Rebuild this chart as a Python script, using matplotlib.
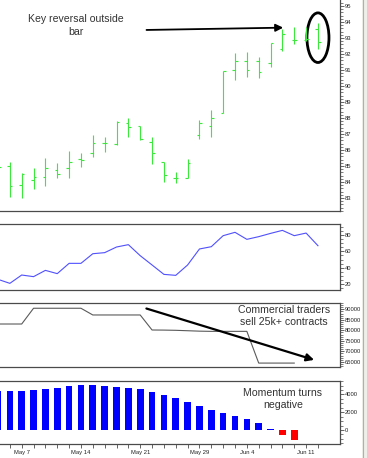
import matplotlib
matplotlib.use("Agg")
import matplotlib.pyplot as plt
from matplotlib.patches import Ellipse, Rectangle
from matplotlib.ticker import MultipleLocator, FixedLocator
import numpy as np

plt.rcParams['font.family'] = ['Liberation Sans', 'DejaVu Sans']

# trading days, May 3 .. Jun 12
dates = ["May 3", "May 4", "May 7", "May 8", "May 9", "May 10", "May 11",
         "May 14", "May 15", "May 16", "May 17", "May 18", "May 21", "May 22",
         "May 23", "May 24", "May 25", "May 29", "May 30", "May 31", "Jun 1",
         "Jun 4", "Jun 5", "Jun 6", "Jun 7", "Jun 8", "Jun 11", "Jun 12"]
date_labels = ["May 7", "May 14", "May 21", "May 29", "Jun 4", "Jun 11"]

# price bars
opens = [85.1, 85.0, 83.81, 84.12, 84.33, 84.75, 84.85, 85.42, 85.83, 86.46,
         86.35, 87.67, 87.5, 86.52, 85.23, 84.23, 84.27, 86.94, 87.52, 88.33,
         91.0, 91.56, 91.56, 91.46, 92.31, 92.9, 92.9, 93.54]
highs = [85.3, 85.27, 84.58, 84.85, 85.48, 85.17, 85.94, 85.83, 86.94, 86.79,
         87.83, 87.98, 87.5, 86.83, 85.27, 84.65, 85.44, 87.88, 88.5, 90.96,
         92.04, 92.1, 91.83, 92.67, 93.54, 93.67, 93.67, 93.96]
lows = [84.6, 83.08, 82.98, 83.54, 83.75, 84.23, 84.23, 84.96, 85.58, 85.85,
        86.31, 86.79, 86.63, 85.1, 84.02, 83.96, 84.23, 86.67, 86.83, 88.29,
        90.38, 90.54, 90.48, 91.21, 92.21, 92.63, 92.83, 92.29]
closes = [84.96, 83.75, 84.5, 84.29, 84.85, 84.5, 85.27, 85.4, 86.42, 86.46,
          87.77, 87.42, 86.67, 85.83, 84.44, 84.23, 85.17, 87.67, 87.98, 90.96,
          91.56, 91.0, 90.85, 92.67, 93.23, 92.88, 92.92, 92.73]

# oscillator (blue line)
osc = [25.7, 20.8, 31, 29, 36.7, 32.7, 45.3, 45.3, 57.1, 58.4, 65.3, 68.2,
       54.7, 43.3, 31.8, 30.6, 43.3, 62.9, 65.7, 79.2, 83.3, 74.7, 78, 82,
       85.7, 79.2, 82.4, 66.9]

# commercial traders net position (ends Jun 8)
commercials = [83000, 83000, 83000, 90500, 90500, 90500, 90500, 90500, 87300,
               87300, 87300, 87300, 87300, 80150, 80100, 80000, 79800, 79600,
               79500, 79500, 79500, 79500, 64400, 64400, 64400, 64400]

# momentum histogram (ends Jun 8)
momentum = [4421, 4421, 4421, 4496, 4646, 4758, 4908, 5058, 5058, 4983, 4870,
            4758, 4608, 4309, 3934, 3559, 3110, 2698, 2248, 1948, 1574, 1236,
            787, 150, -562, -1150]

W, H = 367, 458
fig = plt.figure(figsize=(W / 100, H / 100), dpi=100)
fig.patch.set_facecolor("white")


def add_panel(top, bottom, left=0, right=340):
    return fig.add_axes([left / W, 1 - bottom / H, (right - left) / W, (bottom - top) / H])


x = np.arange(len(dates))
xlim = (0.169, 28.86)
spine_col = "#4a4a4a"
text_col = "#333333"
label_kw = dict(fontsize=7.6, color=text_col, ha="center", va="center", linespacing=1.3)


def style(ax, ylim, major, minor, fmt="{:.0f}"):
    ax.set_xlim(*xlim)
    ax.set_ylim(*ylim)
    ax.yaxis.tick_right()
    ax.yaxis.set_major_locator(MultipleLocator(major))
    ax.yaxis.set_minor_locator(MultipleLocator(minor))
    ax.yaxis.set_major_formatter(plt.FuncFormatter(lambda v, p: fmt.format(v)))
    ax.tick_params(axis="y", which="major", length=3, width=0.6, labelsize=4.2,
                   pad=0.5, colors=spine_col, labelcolor="#222222")
    ax.tick_params(axis="y", which="minor", length=1.8, width=0.5, colors=spine_col)
    ax.set_xticks([])
    ax.spines["left"].set_visible(False)
    for s in ("top", "bottom", "right"):
        ax.spines[s].set_color(spine_col)
        ax.spines[s].set_linewidth(0.9)


# ---- price panel
ax1 = add_panel(0, 211)
style(ax1, (82.19, 95.375), 1, 0.2)
ax1.spines["top"].set_visible(False)
green = "#3de83d"
ax1.vlines(x, lows, highs, color=green, lw=0.8)
ax1.hlines(opens, x - 0.22, x, color=green, lw=0.8)
ax1.hlines(closes, x, x + 0.22, color=green, lw=0.8)
ax1.add_patch(Ellipse((27, 93.02), 1.86, 3.1, fill=False, lw=2, ec="black"))
ax1.annotate("", xy=(24.3, 93.65), xytext=(12.3, 93.5),
             arrowprops=dict(arrowstyle="-|>", lw=1.3, color="black", mutation_scale=11))
ax1.text(6.58, 93.78, "Key reversal outside\nbar", **label_kw)

# ---- oscillator panel
ax2 = add_panel(224, 290)
style(ax2, (12.65, 93.5), 20, 5)
ax2.plot(x, osc, color="#5050ff", lw=0.8)

# ---- commercials panel
ax3 = add_panel(303, 367)
style(ax3, (62535, 93000), 5000, 1000)
ax3.plot(x[:len(commercials)], commercials, color="#5a5a5a", lw=0.8)
ax3.annotate("", xy=(26.9, 65530), xytext=(12.3, 90760),
             arrowprops=dict(arrowstyle="-|>", lw=1.6, color="black", mutation_scale=11),
             annotation_clip=False)
ax3.text(24.1, 86700, "Commercial traders\nsell 25k+ contracts", **label_kw)

# ---- momentum panel
ax4 = add_panel(381, 444)
style(ax4, (-1574, 5508), 2000, 500)
mx = x[:len(momentum)]
bar_cols = ["#0000ff" if m >= 0 else "#ff0000" for m in momentum]
ax4.bar(mx, momentum, width=0.56, color=bar_cols)
ax4.text(24.05, 3480, "Momentum turns\nnegative", **label_kw)
tick_idx = [dates.index(d) for d in date_labels]
ax4.xaxis.set_major_locator(FixedLocator(tick_idx))
ax4.xaxis.set_minor_locator(FixedLocator(list(x)))
ax4.set_xticklabels(date_labels)
ax4.tick_params(axis="x", which="both", length=3, width=0.6, colors=spine_col,
                labelsize=4.2, pad=1.5, labelcolor="#222222")

# right-hand window edge
fig.add_artist(Rectangle((362 / W, 0), 5 / W, 1, transform=fig.transFigure,
                         facecolor="#efefea", edgecolor="none"))
fig.add_artist(plt.Line2D([363 / W, 363 / W], [0, 1], transform=fig.transFigure,
                          color="#b0b0a8", lw=0.8))

fig.savefig("out.png", dpi=100)
